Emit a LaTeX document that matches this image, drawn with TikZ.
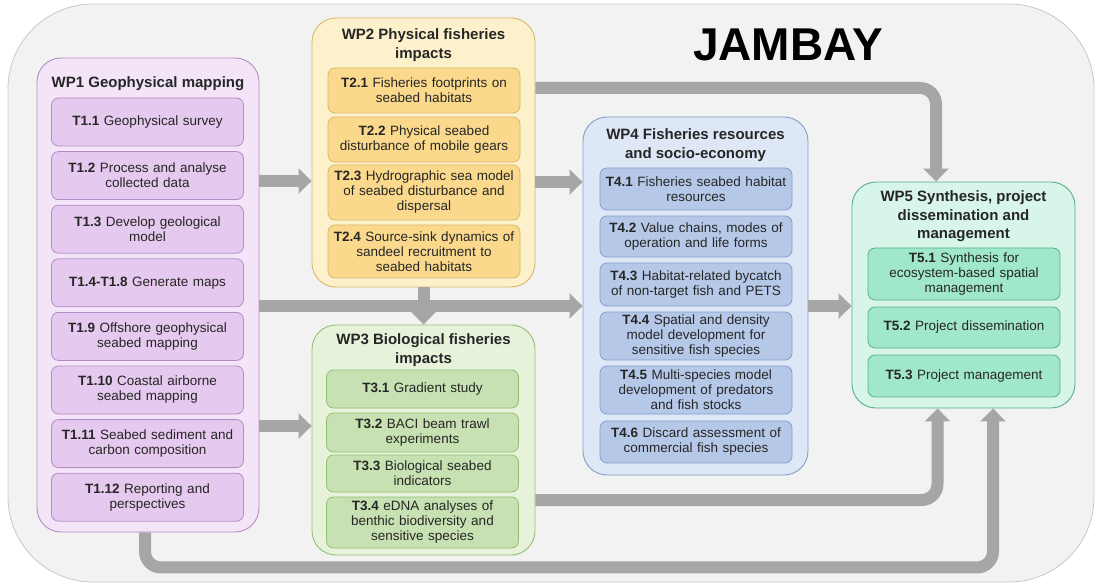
\documentclass[tikz,border=0pt]{standalone}
\usepackage{fontspec}
\setmainfont{Liberation Sans}
\usetikzlibrary{arrows.meta}

\definecolor{pagebg}{HTML}{F2F2F2}
\definecolor{pageln}{HTML}{C8C8C8}
\definecolor{linkgray}{HTML}{A6A6A6}
\definecolor{inkgray}{HTML}{262626}
\definecolor{wp1bg}{HTML}{F3E5F7}
\definecolor{wp1ln}{HTML}{B48CC4}
\definecolor{t1bg}{HTML}{E5C9EE}
\definecolor{wp2bg}{HTML}{FDF1CC}
\definecolor{wp2ln}{HTML}{D8B86A}
\definecolor{t2bg}{HTML}{FAD98C}
\definecolor{wp3bg}{HTML}{E6F2DA}
\definecolor{wp3ln}{HTML}{94BE74}
\definecolor{t3bg}{HTML}{C7E1B2}
\definecolor{wp4bg}{HTML}{DDE7F5}
\definecolor{wp4ln}{HTML}{839FCC}
\definecolor{t4bg}{HTML}{B5C8E8}
\definecolor{wp5bg}{HTML}{D7F5E8}
\definecolor{wp5ln}{HTML}{55B088}
\definecolor{t5bg}{HTML}{A0E8C9}

\begin{document}
\begin{tikzpicture}[
  x=1pt, y=-1pt,
  font=\fontsize{13.5}{15}\selectfont,
  every node/.style={align=center, text=inkgray},
  wp/.style={draw, rounded corners=24pt, line width=0.9pt},
  wphdr/.style={font=\bfseries\fontsize{15}{18.5}\selectfont},
  task/.style={draw, rounded corners=7pt, text width=184pt, inner xsep=4pt,
    inner ysep=0pt, line width=0.8pt},
  task1/.style={task, fill=t1bg, draw=wp1ln},
  task2/.style={task, fill=t2bg, draw=wp2ln},
  task3/.style={task, fill=t3bg, draw=wp3ln},
  task4/.style={task, fill=t4bg, draw=wp4ln},
  task5/.style={task, fill=t5bg, draw=wp5ln},
  link/.style={-{Triangle[width=25pt,length=13pt]}, line width=12pt,
    draw=linkgray, rounded corners=16pt}
]
\useasboundingbox (0,0) rectangle (1097,585);
\draw[fill=pagebg, draw=pageln, line width=0.8pt, rounded corners=85pt] (8,4) rectangle (1094,582);
\node[font=\bfseries\fontsize{46}{50}\selectfont, text=black] (title) at (788,45) {JAMBAY};
% WP1
\node[wp, fill=wp1bg, draw=wp1ln, minimum width=222pt, minimum height=474pt] (wp1) at (148,295) {};
\node[wphdr] (hdr-wp1) at (148,84) {WP1 Geophysical mapping};
\node[task1, minimum height=48pt] (t1-1) at (147.5,122) {\textbf{T1.1} Geophysical survey};
\node[task1, minimum height=48pt] (t1-2) at (147.5,175.6) {\textbf{T1.2} Process and analyse\\collected data};
\node[task1, minimum height=48pt] (t1-3) at (147.5,229.2) {\textbf{T1.3} Develop geological\\model};
\node[task1, minimum height=48pt] (t1-4) at (147.5,282.8) {\textbf{T1.4-T1.8} Generate maps};
\node[task1, minimum height=48pt] (t1-9) at (147.5,336.4) {\textbf{T1.9} Offshore geophysical\\seabed mapping};
\node[task1, minimum height=48pt] (t1-10) at (147.5,390) {\textbf{T1.10} Coastal airborne\\seabed mapping};
\node[task1, minimum height=48pt] (t1-11) at (147.5,443.6) {\textbf{T1.11} Seabed sediment and\\carbon composition};
\node[task1, minimum height=48pt] (t1-12) at (147.5,497.2) {\textbf{T1.12} Reporting and\\perspectives};
% WP2
\node[wp, fill=wp2bg, draw=wp2ln, minimum width=223pt, minimum height=269pt] (wp2) at (423.5,152.5) {};
\node[wphdr] (hdr-wp2) at (423.5,45) {WP2 Physical fisheries\\impacts};
\node[task2, minimum height=45pt] (t2-1) at (424,90.5) {\textbf{T2.1} Fisheries footprints on\\seabed habitats};
\node[task2, minimum height=45pt] (t2-2) at (424,139.5) {\textbf{T2.2} Physical seabed\\disturbance of mobile gears};
\node[task2, minimum height=55pt] (t2-3) at (424,192.5) {\textbf{T2.3} Hydrographic sea model\\of seabed disturbance and\\dispersal};
\node[task2, minimum height=53pt] (t2-4) at (424,251.5) {\textbf{T2.4} Source-sink dynamics of\\sandeel recruitment to\\seabed habitats};
% WP3
\node[wp, fill=wp3bg, draw=wp3ln, minimum width=223pt, minimum height=230pt] (wp3) at (423.5,440) {};
\node[wphdr] (hdr-wp3) at (423.5,350) {WP3 Biological fisheries\\impacts};
\node[task3, minimum height=38pt] (t3-1) at (422.5,389) {\textbf{T3.1} Gradient study};
\node[task3, minimum height=39pt] (t3-2) at (422.5,432.5) {\textbf{T3.2} BACI beam trawl\\experiments};
\node[task3, minimum height=37pt] (t3-3) at (422.5,473.5) {\textbf{T3.3} Biological seabed\\indicators};
\node[task3, minimum height=51pt] (t3-4) at (422.5,522.5) {\textbf{T3.4} eDNA analyses of\\benthic biodiversity and\\sensitive species};
% WP4
\node[wp, fill=wp4bg, draw=wp4ln, minimum width=225pt, minimum height=358pt] (wp4) at (695.5,296) {};
\node[wphdr] (hdr-wp4) at (695.5,145) {WP4 Fisheries resources\\and socio-economy};
\node[task4, minimum height=42pt] (t4-1) at (696,189) {\textbf{T4.1} Fisheries seabed habitat\\resources};
\node[task4, minimum height=41pt] (t4-2) at (696,236.5) {\textbf{T4.2} Value chains, modes of\\operation and life forms};
\node[task4, minimum height=43pt] (t4-3) at (696,284.5) {\textbf{T4.3} Habitat-related bycatch\\of non-target fish and PETS};
\node[task4, minimum height=48pt] (t4-4) at (696,336) {\textbf{T4.4} Spatial and density\\model development for\\sensitive fish species};
\node[task4, minimum height=48pt] (t4-5) at (696,390) {\textbf{T4.5} Multi-species model\\development of predators\\and fish stocks};
\node[task4, minimum height=42pt] (t4-6) at (696,442) {\textbf{T4.6} Discard assessment of\\commercial fish species};
% WP5
\node[wp, fill=wp5bg, draw=wp5ln, minimum width=223pt, minimum height=226pt] (wp5) at (963.5,295) {};
\node[wphdr] (hdr-wp5) at (963.5,216.5) {WP5 Synthesis, project\\dissemination and\\management};
\node[task5, minimum height=52pt] (t5-1) at (964,274) {\textbf{T5.1} Synthesis for\\ecosystem-based spatial\\management};
\node[task5, minimum height=41pt] (t5-2) at (964,327.5) {\textbf{T5.2} Project dissemination};
\node[task5, minimum height=42pt] (t5-3) at (964,376) {\textbf{T5.3} Project management};
% links between work packages
\draw[link] (wp1.east |- 0,181) -- (wp2.west |- 0,181);
\draw[link] (wp2.east |- 0,182) -- (wp4.west |- 0,182);
\draw[link] (wp2.east |- 0,88) -| ([xshift=-27.5pt]wp5.north);
\draw[link] (wp1.east |- 0,306) -- (wp4.west |- 0,306);
\draw[link] (wp2.south) -- (wp3.north);
\draw[link] (wp4.east |- 0,306) -- (wp5.west |- 0,306);
\draw[link] (wp1.east |- 0,426) -- (wp3.west |- 0,426);
\draw[link] (wp3.east |- 0,500) -| ([xshift=-26pt]wp5.south);
\draw[link] ([xshift=-3pt]wp1.south) -- ++(0,35) -| ([xshift=29.5pt]wp5.south);
\end{tikzpicture}
\end{document}
